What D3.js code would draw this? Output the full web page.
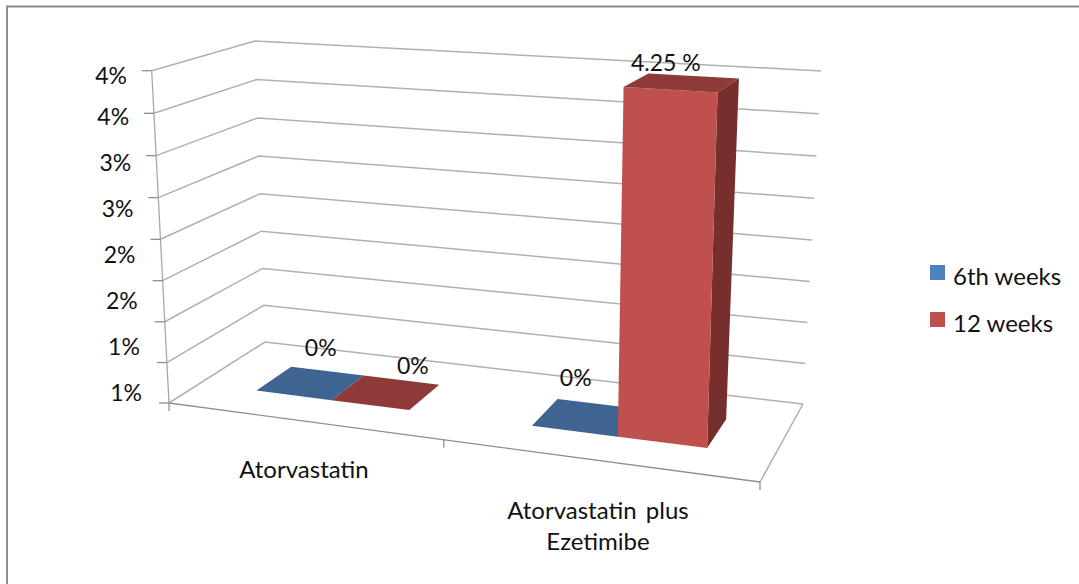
<!DOCTYPE html>
<html>
<head>
<meta charset="utf-8">
<script src="https://cdn.jsdelivr.net/npm/d3@7/dist/d3.min.js"></script>
<style>
html,body{margin:0;padding:0;background:#fff;overflow:hidden}
text{font-family:Lato,"Open Sans",sans-serif;fill:#111;font-size:24px;white-space:pre}
text.num{font-size:23px}
</style>
</head>
<body>
<svg id="chart" width="1079" height="584"></svg>
<script>
// Chart data
const categories = ["Atorvastatin", "Atorvastatin  plus|Ezetimibe"];
const seriesNames = ["6th weeks", "12 weeks"];
const sixthWeeks = [0, 0];
const twelveWeeks = [0, 4.25];
const sixthLabels = ["0%", "0%"];
const twelveLabels = ["0%", "4.25 %"];
const axisLabels = ["1%", "1%", "2%", "2%", "3%", "3%", "4%", "4%"];
const axisMax = 4.25;
const gridIntervals = 8;

// Palette
const seriesFront = ["#4F81BD", "#C0504D"];
const seriesTop = ["#3E6591", "#8E3A38"];
const seriesSide = ["#33557A", "#772F2D"];
const gridColor = "#b0b0b0";
const axisColor = "#8f8f8f";

// Box corners on screen: the floor and ceiling planes of the oblique view
const floorCorners = {fl:[169,403], fr:[760,482], br:[803,404], bl:[265,342]};
const ceilingCorners = {fl:[151.7,70.7], fr:[772,109], br:[821,71], bl:[255,41]};
const heightPerspective = 0.03;

// Homography from the unit square onto a quadrilateral
function planeHomography(c){
  const [x0,y0]=c.fl,[x1,y1]=c.fr,[x2,y2]=c.br,[x3,y3]=c.bl;
  const dx1=x1-x2,dx2=x3-x2,sx=x0-x1+x2-x3;
  const dy1=y1-y2,dy2=y3-y2,sy=y0-y1+y2-y3;
  const den=dx1*dy2-dx2*dy1;
  const i=(sx*dy2-dx2*sy)/den, j=(dx1*sy-sx*dy1)/den;
  const a=x1-x0+i*x1,b=x3-x0+j*x3,d=x0,e=y1-y0+i*y1,f=y3-y0+j*y3,h=y0;
  return (u,w)=>{const W=i*u+j*w+1;return [(a*u+b*w+d)/W,(e*u+f*w+h)/W];};
}
const floorPlane = planeHomography(floorCorners);
const ceilingPlane = planeHomography(ceilingCorners);

// Heights run between the two planes, spreading slightly towards the ceiling
function project(u,w,v){
  const p=floorPlane(u,w),q=ceilingPlane(u,w);
  const t=v/(1+heightPerspective*(1-v));
  return [p[0]+(q[0]-p[0])*t,p[1]+(q[1]-p[1])*t];
}

// Scales
const yScale = d3.scaleLinear().domain([0,axisMax]).range([0,1]);
const categoryScale = d3.scaleBand().domain(categories).range([0.004,1.004]);
const seriesScale = d3.scaleBand().domain(seriesNames).range([0,categoryScale.bandwidth()]).paddingOuter(0.75).paddingInner(0);
const depthRange = [0.3,0.68];
const gridLevels = d3.range(gridIntervals+1).map(i=>i/gridIntervals);

const svg = d3.select("#chart");
const line = d3.line();
const poly = pts => line(pts)+"Z";

// Outer frame
svg.append("path").attr("d","M7,584V6.5H1079").attr("fill","none").attr("stroke","#8c8c8c").attr("stroke-width",2);

// Walls and floor
const grid = svg.append("g").attr("fill","none").attr("stroke",gridColor).attr("stroke-width",1.5);
grid.selectAll("path.level").data(gridLevels).join("path").attr("class","level")
  .attr("d",v=>line([project(0,0,v),project(0,1,v),project(1,1,v)]));
grid.append("path").attr("d",line([project(1,1,0),project(1,0,0)]));

const axes = svg.append("g").attr("fill","none").attr("stroke",axisColor).attr("stroke-width",1.3);
axes.append("path").attr("d",line([project(0,0,0),project(0,0,1)])).attr("stroke","#a8a8a8");
axes.append("path").attr("d",line([project(0,0,0),project(1,0,0)]));
axes.selectAll("path.ytick").data(gridLevels).join("path").attr("class","ytick")
  .attr("d",v=>{const p=project(0,0,v);return line([[p[0]-10,p[1]],p]);});
axes.selectAll("path.xtick").data([0,0.5,1]).join("path").attr("class","xtick")
  .attr("d",u=>{const p=project(u,0,0);return line([p,[p[0],p[1]+8]]);});

// Bars
const barRows = [sixthWeeks,twelveWeeks].flatMap((vals,s)=>vals.map((value,c)=>{
  const start=categoryScale(categories[c])+seriesScale(seriesNames[s]);
  return {s,c,value,u0:start,u1:start+seriesScale.bandwidth(),v:yScale(value)};
}));
const [w0,w1]=depthRange;
const bars = svg.append("g");
barRows.forEach(d=>{
  const g=bars.append("g");
  g.append("path").attr("fill",seriesSide[d.s])
    .attr("d",poly([project(d.u1,w0,0),project(d.u1,w1,0),project(d.u1,w1,d.v),project(d.u1,w0,d.v)]));
  g.append("path").attr("fill",seriesFront[d.s])
    .attr("d",poly([project(d.u0,w0,0),project(d.u1,w0,0),project(d.u1,w0,d.v),project(d.u0,w0,d.v)]));
  g.append("path").attr("fill",seriesTop[d.s])
    .attr("d",poly([project(d.u0,w0,d.v),project(d.u1,w0,d.v),project(d.u1,w1,d.v),project(d.u0,w1,d.v)]));
});

// Value labels sit above each bar's top face
const labelShift = [[10,-36],[-11,-40],[27,-27],[-16,-21]];
const barLabels = [...sixthLabels,...twelveLabels];
svg.append("g").selectAll("text").data(barRows).join("text").attr("class","num")
  .attr("text-anchor","middle").attr("dominant-baseline","central")
  .attr("x",(d,i)=>project((d.u0+d.u1)/2,(w0+w1)/2,d.v)[0]+labelShift[i][0])
  .attr("y",(d,i)=>project((d.u0+d.u1)/2,(w0+w1)/2,d.v)[1]+labelShift[i][1])
  .text((d,i)=>barLabels[i]);

// Value-axis labels
const labelY = d3.scaleLinear().domain([0,6,7]).range([392,116,75]);
const labelX = d3.scaleLinear().domain([0,7]).range([142,127]);
svg.append("g").selectAll("text").data(axisLabels).join("text").attr("class","num")
  .attr("text-anchor","end").attr("dominant-baseline","central")
  .attr("x",(d,i)=>labelX(i)).attr("y",(d,i)=>labelY(i)).text(d=>d);

// Category labels
const catAnchors = [[304,468],[598,509]];
categories.forEach((name,i)=>{
  name.split("|").forEach((part,k)=>{
    svg.append("text").attr("text-anchor","middle").attr("dominant-baseline","central")
      .attr("x",catAnchors[i][0]).attr("y",catAnchors[i][1]+k*31).text(part.replace("  "," \u2009"));
  });
});

// Legend
const legendY = d3.scalePoint().domain(seriesNames).range([275,322]);
const legend = svg.append("g").selectAll("g").data(seriesNames).join("g")
  .attr("transform",d=>`translate(930,${legendY(d)})`);
legend.append("rect").attr("y",-10).attr("width",15).attr("height",15).attr("fill",(d,i)=>seriesFront[i]);
legend.append("text").attr("x",23).attr("dominant-baseline","central").text(d=>d);
</script>
</body>
</html>
